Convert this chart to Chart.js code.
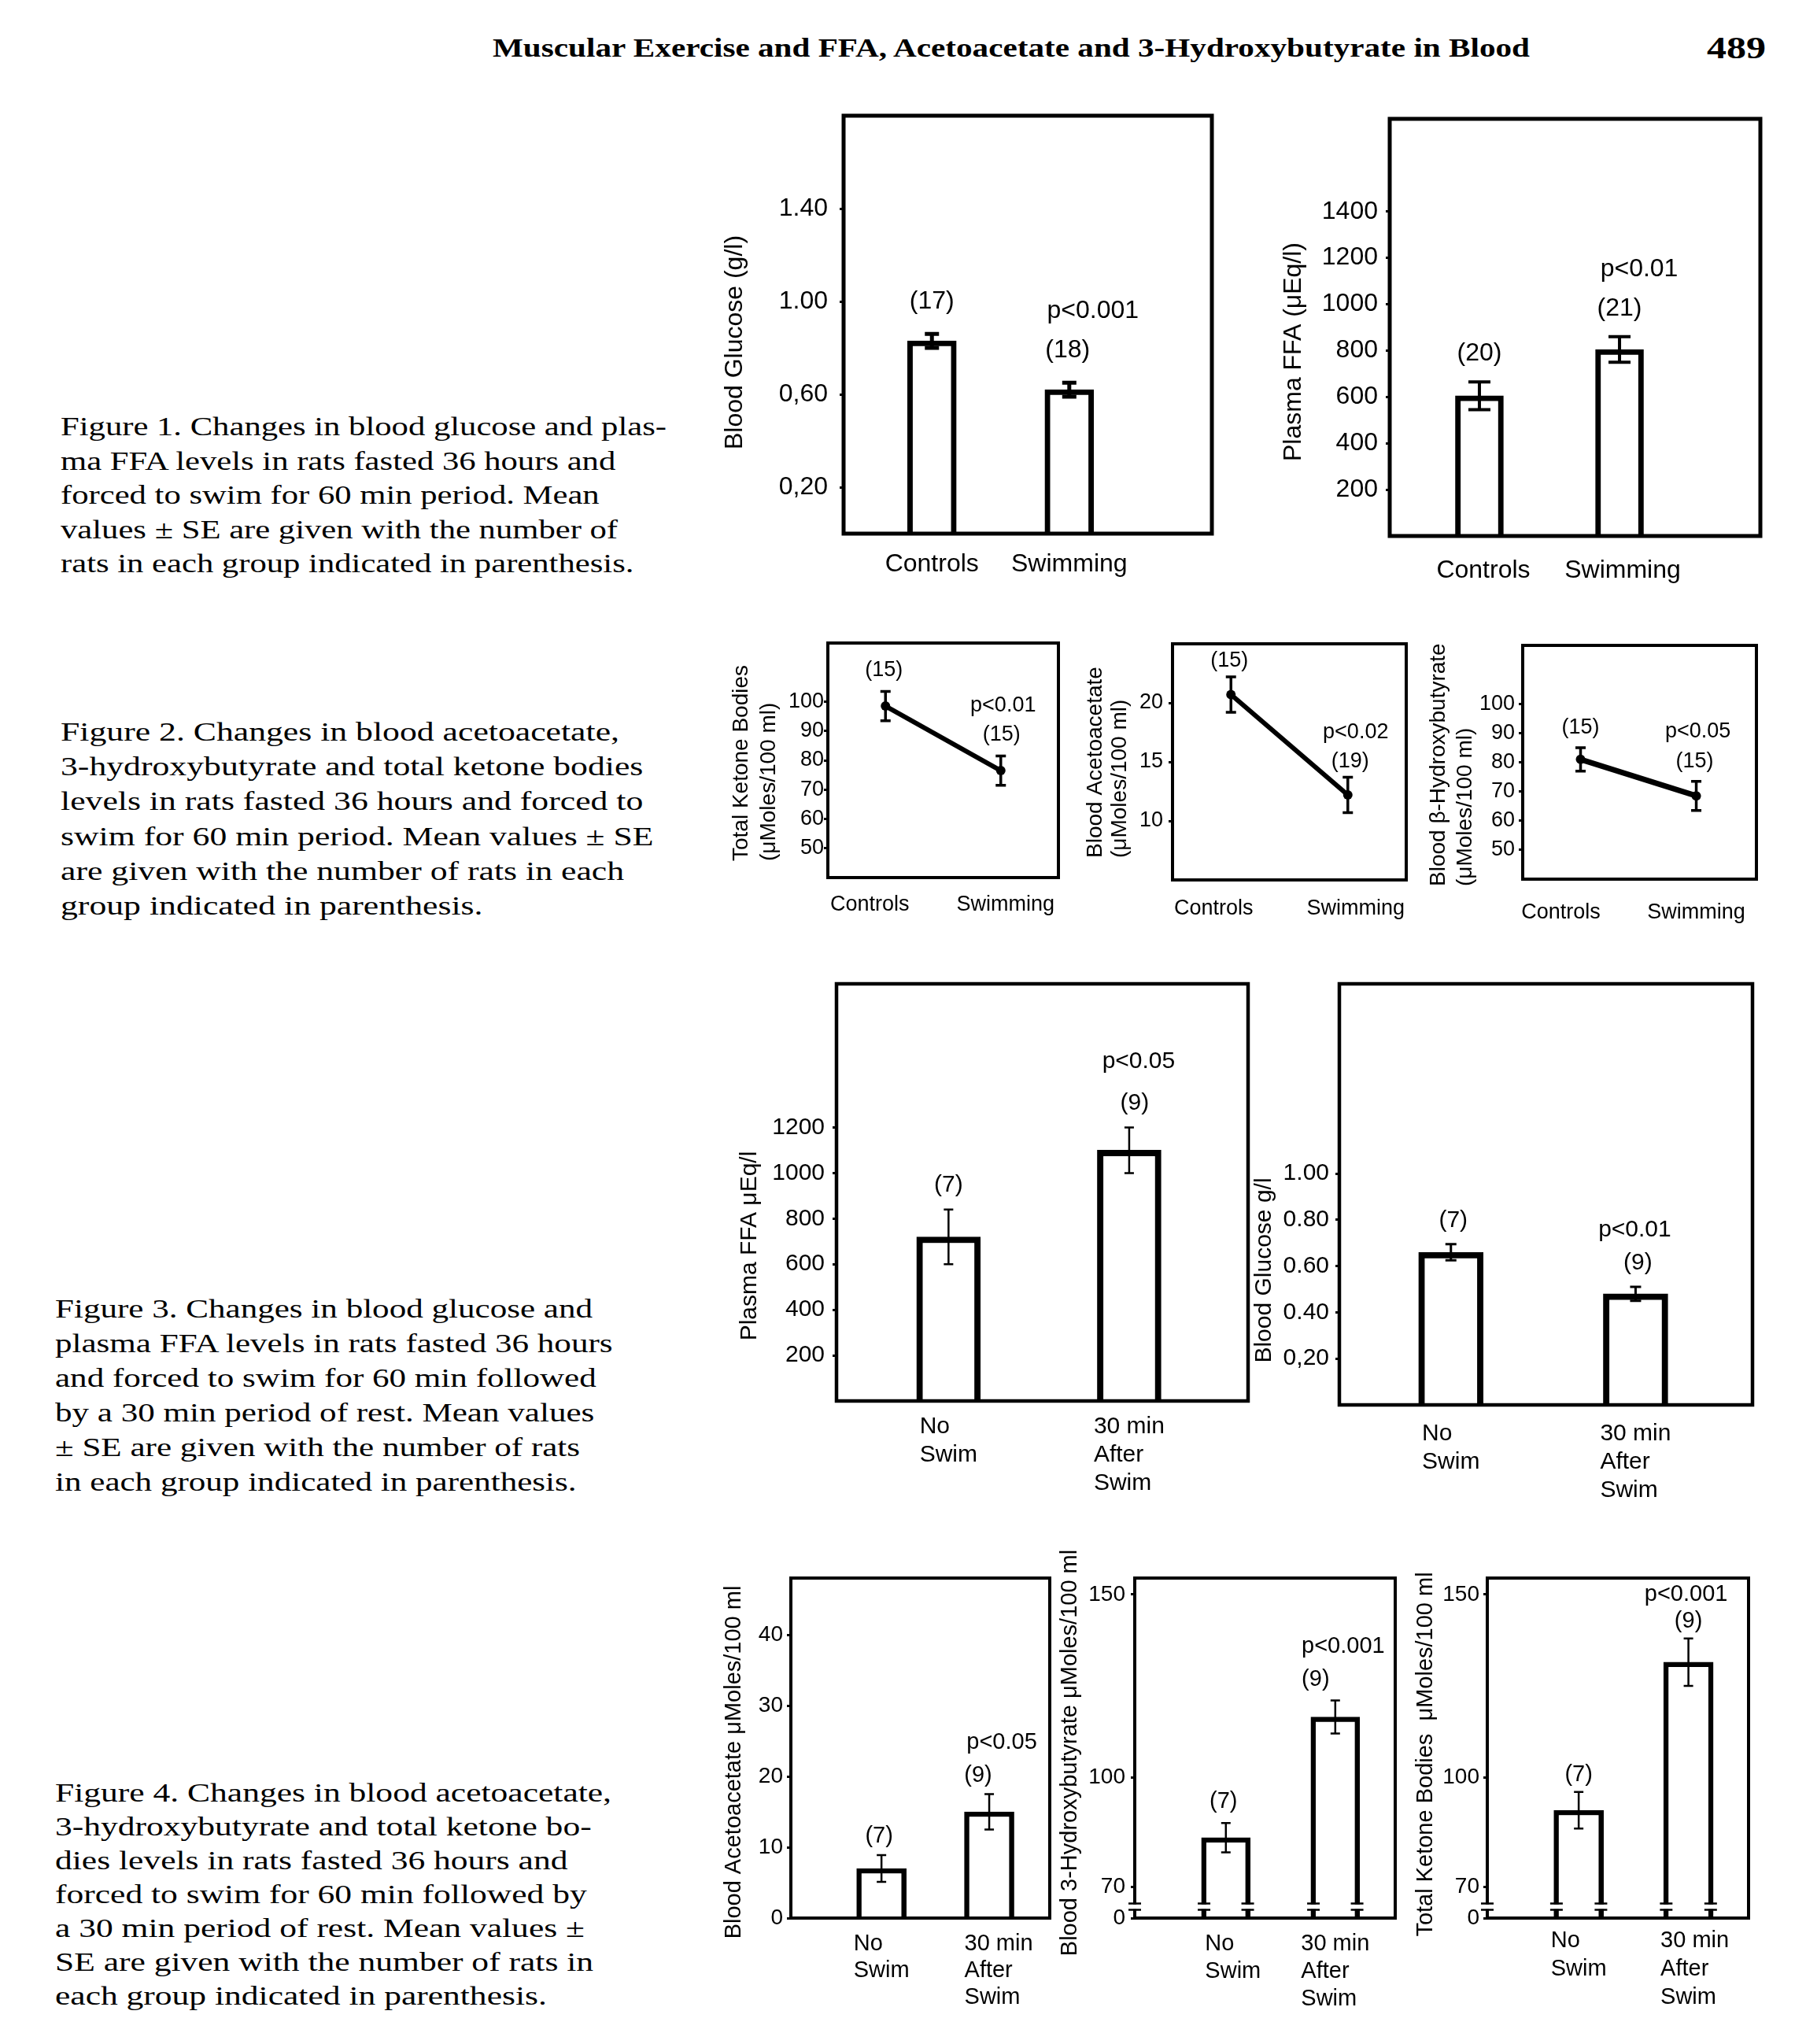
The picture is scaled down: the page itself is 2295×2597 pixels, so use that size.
<!DOCTYPE html>
<html>
<head>
<meta charset="utf-8">
<script src="https://cdn.jsdelivr.net/npm/chart.js@4.4.1/dist/chart.umd.min.js"></script>
<style>
  html, body { margin: 0; padding: 0; background: #fff; }
  body { width: 2295px; height: 2597px; position: relative; overflow: hidden; }
  canvas { position: absolute; }
  .txt { position: absolute; font-family: "Liberation Serif", "Times New Roman", serif; color: #000;
         white-space: nowrap; transform-origin: 0 0; }
</style>
</head>
<body>
<script>
// ---------- data ----------

// Figure 1
const fig1Groups = [['Controls'], ['Swimming']];
const f1GlucoseMean = [0.83, 0.62];
const f1GlucoseSE = [0.03, 0.03];
const f1GlucoseN = ['(17)', '(18)'];
const f1GlucoseP = ['', 'p<0.001'];
const f1GlucoseTicks = [0.2, 0.6, 1.0, 1.4];
const f1GlucoseTickLabels = ['0,20', '0,60', '1.00', '1.40'];

const f1FfaMean = [605, 805];
const f1FfaSE = [60, 55];
const f1FfaN = ['(20)', '(21)'];
const f1FfaP = ['', 'p<0.01'];
const f1FfaTicks = [200, 400, 600, 800, 1000, 1200, 1400];

// Figure 2
const fig2Groups = [['Controls'], ['Swimming']];
const f2KetoneMean = [98.5, 76.5];
const f2KetoneSE = [5, 5];
const f2KetoneN = ['(15)', '(15)'];
const f2KetoneP = ['', 'p<0.01'];
const f2KetoneTicks = [50, 60, 70, 80, 90, 100];

const f2AcetoMean = [20.7, 12.2];
const f2AcetoSE = [1.5, 1.5];
const f2AcetoN = ['(15)', '(19)'];
const f2AcetoP = ['', 'p<0.02'];
const f2AcetoTicks = [10, 15, 20];

const f2HydroxyMean = [81, 68.5];
const f2HydroxySE = [4, 5];
const f2HydroxyN = ['(15)', '(15)'];
const f2HydroxyP = ['', 'p<0.05'];
const f2HydroxyTicks = [50, 60, 70, 80, 90, 100];

// Figure 3
const fig3Groups = [['No', 'Swim'], ['30 min', 'After', 'Swim']];
const f3FfaMean = [720, 1100];
const f3FfaSE = [120, 100];
const f3FfaN = ['(7)', '(9)'];
const f3FfaP = ['', 'p<0.05'];
const f3FfaTicks = [200, 400, 600, 800, 1000, 1200];

const f3GlucoseMean = [0.66, 0.48];
const f3GlucoseSE = [0.035, 0.03];
const f3GlucoseN = ['(7)', '(9)'];
const f3GlucoseP = ['', 'p<0.01'];
const f3GlucoseTicks = [0.2, 0.4, 0.6, 0.8, 1.0];
const f3GlucoseTickLabels = ['0,20', '0.40', '0.60', '0.80', '1.00'];

// Figure 4
const fig4Groups = [['No', 'Swim'], ['30 min', 'After', 'Swim']];
const f4AcetoMean = [7, 15];
const f4AcetoSE = [1.9, 2.5];
const f4AcetoN = ['(7)', '(9)'];
const f4AcetoP = ['', 'p<0.05'];
const f4AcetoTicks = [0, 10, 20, 30, 40];

// broken axes: the lowest tick sits at the break and is labelled 0
const f4HydroxyMean = [83.5, 116.5];
const f4HydroxySE = [4, 4.5];
const f4HydroxyN = ['(7)', '(9)'];
const f4HydroxyP = ['', 'p<0.001'];
const f4HydroxyTicks = [61.5, 70, 100, 150];
const f4HydroxyTickLabels = ['0', '70', '100', '150'];

const f4KetoneMean = [91, 131.5];
const f4KetoneSE = [5, 6.5];
const f4KetoneN = ['(7)', '(9)'];
const f4KetoneP = ['', 'p<0.001'];
const f4KetoneTicks = [61.5, 70, 100, 150];
const f4KetoneTickLabels = ['0', '70', '100', '150'];

// page text
const headerText = 'Muscular Exercise and FFA, Acetoacetate and 3-Hydroxybutyrate in Blood';
const pageNumber = '489';
const caption1 = [
  'Figure 1. Changes in blood glucose and plas-',
  'ma FFA levels in rats fasted 36 hours and',
  'forced to swim for 60 min period. Mean',
  'values \u00B1 SE are given with the number of',
  'rats in each group indicated in parenthesis.'
];
const caption2 = [
  'Figure 2. Changes in blood acetoacetate,',
  '3-hydroxybutyrate and total ketone bodies',
  'levels in rats fasted 36 hours and forced to',
  'swim for 60 min period. Mean values \u00B1 SE',
  'are given with the number of rats in each',
  'group indicated in parenthesis.'
];
const caption3 = [
  'Figure 3. Changes in blood glucose and',
  'plasma FFA levels in rats fasted 36 hours',
  'and forced to swim for 60 min followed',
  'by a 30 min period of rest. Mean values',
  '\u00B1 SE are given with the number of rats',
  'in each group indicated in parenthesis.'
];
const caption4 = [
  'Figure 4. Changes in blood acetoacetate,',
  '3-hydroxybutyrate and total ketone bo-',
  'dies levels in rats fasted 36 hours and',
  'forced to swim for 60 min followed by',
  'a 30 min period of rest. Mean values \u00B1',
  'SE are given with the number of rats in',
  'each group indicated in parenthesis.'
];

// ---------- drawing ----------
const SANS = '"Liberation Sans", Arial, sans-serif';
const MARGIN = { l: 175, t: 60, r: 40, b: 150 };

function textBlock(lines, left, centerY, lh, size, firstWidth, weight) {
  const box = document.createElement('div');
  box.className = 'txt';
  box.style.left = left + 'px';
  box.style.top = (centerY - lh / 2) + 'px';
  box.style.fontSize = size + 'px';
  box.style.lineHeight = lh + 'px';
  box.style.fontWeight = weight || 'normal';
  lines.forEach(t => {
    const d = document.createElement('div');
    const s = document.createElement('span');
    s.textContent = t;
    d.appendChild(s);
    box.appendChild(d);
  });
  document.body.appendChild(box);
  const w = box.querySelector('span').getBoundingClientRect().width;
  box.style.transform = 'scaleX(' + (firstWidth / w) + ')';
}

function decor(o, ox, oy) {
  return {
    id: 'decor',
    afterDatasetsDraw(chart) {
      const ctx = chart.ctx, a = chart.chartArea;
      const xs = chart.scales.x, ys = chart.scales.y;
      const meta = chart.getDatasetMeta(0);
      ctx.save();
      ctx.strokeStyle = '#000';
      ctx.fillStyle = '#000';

      // frame
      ctx.lineWidth = o.frameW;
      ctx.strokeRect(a.left, a.top, a.right - a.left, a.bottom - a.top);

      // error bars (mean +/- SE)
      ctx.lineWidth = o.errW;
      o.mean.forEach((m, i) => {
        const x = xs.getPixelForValue(i);
        const hi = ys.getPixelForValue(m + o.se[i]);
        const lo = ys.getPixelForValue(m - o.se[i]);
        ctx.beginPath();
        ctx.moveTo(x, hi); ctx.lineTo(x, lo);
        ctx.moveTo(x - o.cap / 2, hi); ctx.lineTo(x + o.cap / 2, hi);
        ctx.moveTo(x - o.cap / 2, lo); ctx.lineTo(x + o.cap / 2, lo);
        ctx.stroke();
      });

      // axis break marks
      if (o.breakAt !== undefined) {
        const yb = ys.getPixelForValue(o.breakAt);
        const pos = [a.left];
        meta.data.forEach(el => {
          const half = el.width / 2 - o.barBorder / 2;
          pos.push(el.x - half, el.x + half);
        });
        pos.forEach(x => {
          ctx.fillStyle = '#fff';
          ctx.fillRect(x - 9, yb - 3, 18, 6);
          ctx.lineWidth = 2.5;
          ctx.beginPath();
          ctx.moveTo(x - 8, yb - 4); ctx.lineTo(x + 8, yb - 4);
          ctx.moveTo(x - 8, yb + 4); ctx.lineTo(x + 8, yb + 4);
          ctx.stroke();
        });
        ctx.fillStyle = '#000';
      }

      // group sizes and p values over the error bars
      ctx.font = o.font + 'px ' + SANS;
      ctx.textAlign = 'center';
      ctx.textBaseline = 'middle';
      o.mean.forEach((m, i) => {
        const x = xs.getPixelForValue(i);
        const yN = ys.getPixelForValue(m + o.se[i]) - o.nGap;
        ctx.fillText(o.n[i], x + o.nDx[i], yN);
        if (o.p[i]) ctx.fillText(o.p[i], x + o.pDx, yN - o.pGap);
      });

      // category labels: left aligned lines, block centred on the mark
      ctx.textAlign = 'left';
      o.groups.forEach((lines, i) => {
        const w = Math.max(...lines.map(t => ctx.measureText(t).width));
        const x0 = xs.getPixelForValue(i) + o.labDx[i] - w / 2;
        lines.forEach((t, j) => ctx.fillText(t, x0, a.bottom + o.labGap + j * o.labLH));
      });

      // rotated y title
      ctx.font = o.titleSize + 'px ' + SANS;
      ctx.textAlign = o.titleAlign;
      o.title.forEach((t, j) => {
        ctx.save();
        ctx.translate(o.titleX[j] - ox, o.titleY - oy);
        ctx.rotate(-Math.PI / 2);
        ctx.fillText(t, 0, 0);
        ctx.restore();
      });
      ctx.restore();
    }
  };
}

function panel(o) {
  const [bl, bt, br, bb] = o.box;
  const W = br - bl + MARGIN.l + MARGIN.r;
  const H = bb - bt + MARGIN.t + MARGIN.b;
  const ox = bl - MARGIN.l, oy = bt - MARGIN.t;
  const cv = document.createElement('canvas');
  cv.width = W; cv.height = H;
  cv.style.left = ox + 'px'; cv.style.top = oy + 'px';
  cv.style.width = W + 'px'; cv.style.height = H + 'px';
  document.body.appendChild(cv);

  const points = o.mean.map((v, i) => ({ x: i, y: v }));
  const ds = o.type === 'bar'
    ? { data: points, backgroundColor: '#fff', borderColor: '#000', borderWidth: o.barBorder,
        borderSkipped: 'start', barThickness: o.barW, base: o.yMin }
    : { data: points, borderColor: '#000', borderWidth: o.lineW, pointRadius: o.pointR,
        pointBackgroundColor: '#000', pointBorderWidth: 0, tension: 0, fill: false };

  new Chart(cv, {
    type: o.type,
    data: { datasets: [ds] },
    options: {
      responsive: false,
      animation: false,
      devicePixelRatio: 1,
      layout: { padding: { left: 0, top: MARGIN.t, right: MARGIN.r, bottom: MARGIN.b } },
      plugins: { legend: { display: false }, tooltip: { enabled: false } },
      scales: {
        x: { type: 'linear', display: false, min: o.xMin, max: o.xMax, offset: false },
        y: {
          type: 'linear', min: o.yMin, max: o.yMax,
          afterFit: s => { s.width = MARGIN.l; },
          afterBuildTicks: s => { s.ticks = o.ticks.map(v => ({ value: v })); },
          border: { display: false },
          grid: { drawOnChartArea: false, drawTicks: true, tickLength: 5, tickWidth: 3, tickColor: '#000' },
          ticks: {
            autoSkip: false, color: '#000', padding: o.tickPad,
            font: { family: SANS, size: o.tickSize || o.font },
            callback: v => o.tickLabels ? o.tickLabels[o.ticks.indexOf(v)] : String(v)
          }
        }
      }
    },
    plugins: [decor(o, ox, oy)]
  });
}

// Figure 1
panel({ type: 'bar', mean: f1GlucoseMean, se: f1GlucoseSE, n: f1GlucoseN, p: f1GlucoseP, groups: fig1Groups,
  ticks: f1GlucoseTicks, tickLabels: f1GlucoseTickLabels,
  box: [1072, 147, 1540, 678], yMin: 0, yMax: 1.8, xMin: -0.643, xMax: 2.038,
  font: 32, tickPad: 15, frameW: 5, barW: 62, barBorder: 7, errW: 5, cap: 18,
  nGap: 41, nDx: [0, -2], pGap: 50, pDx: 30, labGap: 39, labLH: 34, labDx: [0, 0],
  title: ['Blood Glucose (g/l)'], titleSize: 32, titleX: [934], titleY: 435, titleAlign: 'center' });

panel({ type: 'bar', mean: f1FfaMean, se: f1FfaSE, n: f1FfaN, p: f1FfaP, groups: fig1Groups,
  ticks: f1FfaTicks,
  box: [1766, 151, 2237, 681], yMin: 0, yMax: 1800, xMin: -0.64, xMax: 2.005,
  font: 32, tickPad: 10, frameW: 5, barW: 61, barBorder: 7, errW: 4, cap: 28,
  nGap: 36, nDx: [0, 0], pGap: 50, pDx: 25, labGap: 44, labLH: 34, labDx: [5, 4],
  title: ['Plasma FFA (\u03BCEq/l)'], titleSize: 32, titleX: [1644], titleY: 447, titleAlign: 'center' });

// Figure 2
panel({ type: 'line', mean: f2KetoneMean, se: f2KetoneSE, n: f2KetoneN, p: f2KetoneP, groups: fig2Groups,
  ticks: f2KetoneTicks,
  box: [1052, 817, 1345, 1115], yMin: 40, yMax: 120, xMin: -0.5, xMax: 1.5,
  font: 27, tickPad: 0, frameW: 4, lineW: 6, pointR: 6, errW: 3.5, cap: 13,
  nGap: 27, nDx: [-2, 1], pGap: 37, pDx: 3, labGap: 35, labLH: 30, labDx: [-20, 6],
  title: ['Total Ketone Bodies', '(\u03BCMoles/100 ml)'], titleSize: 28, titleX: [942, 977], titleY: 1094, titleAlign: 'left' });

panel({ type: 'line', mean: f2AcetoMean, se: f2AcetoSE, n: f2AcetoN, p: f2AcetoP, groups: fig2Groups,
  ticks: f2AcetoTicks,
  box: [1490, 818, 1787, 1118], yMin: 5, yMax: 25, xMin: -0.5, xMax: 1.5,
  font: 27, tickPad: 7, frameW: 4, lineW: 6, pointR: 6, errW: 3.5, cap: 13,
  nGap: 20, nDx: [-2, 3], pGap: 37, pDx: 10, labGap: 37, labLH: 30, labDx: [-22, 10],
  title: ['Blood Acetoacetate', '(\u03BCMoles/100 ml)'], titleSize: 28, titleX: [1392, 1423], titleY: 1090, titleAlign: 'left' });

panel({ type: 'line', mean: f2HydroxyMean, se: f2HydroxySE, n: f2HydroxyN, p: f2HydroxyP, groups: fig2Groups,
  ticks: f2HydroxyTicks,
  box: [1935, 820, 2232, 1117], yMin: 40, yMax: 120, xMin: -0.5, xMax: 1.52,
  font: 27, tickPad: 5, frameW: 4, lineW: 7, pointR: 6, errW: 3.5, cap: 13,
  nGap: 25, nDx: [0, -2], pGap: 38, pDx: 2, labGap: 43, labLH: 30, labDx: [-25, 0],
  title: ['Blood \u03B2-Hydroxybutyrate', '(\u03BCMoles/100 ml)'], titleSize: 28, titleX: [1828, 1862], titleY: 1126, titleAlign: 'left' });

// Figure 3
panel({ type: 'bar', mean: f3FfaMean, se: f3FfaSE, n: f3FfaN, p: f3FfaP, groups: fig3Groups,
  ticks: f3FfaTicks,
  box: [1063, 1250, 1586, 1780], yMin: 0, yMax: 1830, xMin: -0.62, xMax: 1.658,
  font: 30, tickPad: 10, frameW: 4.5, barW: 81, barBorder: 8, errW: 2.5, cap: 12,
  nGap: 31, nDx: [0, 7], pGap: 53, pDx: 12, labGap: 33, labLH: 36, labDx: [0, 0],
  title: ['Plasma FFA \u03BCEq/l'], titleSize: 30, titleX: [953], titleY: 1583, titleAlign: 'center' });

panel({ type: 'bar', mean: f3GlucoseMean, se: f3GlucoseSE, n: f3GlucoseN, p: f3GlucoseP, groups: fig3Groups,
  ticks: f3GlucoseTicks, tickLabels: f3GlucoseTickLabels,
  box: [1702, 1250, 2227, 1785], yMin: 0, yMax: 1.82, xMin: -0.604, xMax: 1.633,
  font: 30, tickPad: 8, frameW: 4.5, barW: 82, barBorder: 8, errW: 3, cap: 14,
  nGap: 30, nDx: [3, 3], pGap: 42, pDx: -1, labGap: 37, labLH: 36, labDx: [0, 0],
  title: ['Blood Glucose g/l'], titleSize: 30, titleX: [1607], titleY: 1614, titleAlign: 'center' });

// Figure 4
panel({ type: 'bar', mean: f4AcetoMean, se: f4AcetoSE, n: f4AcetoN, p: f4AcetoP, groups: fig4Groups,
  ticks: f4AcetoTicks,
  box: [1005, 2005, 1334, 2437], yMin: 0, yMax: 48, xMin: -0.841, xMax: 1.562,
  font: 29, tickSize: 28, tickPad: 5, frameW: 4, barW: 63, barBorder: 6.5, errW: 2.5, cap: 12,
  nGap: 24, nDx: [-3, -14], pGap: 41.5, pDx: 16, labGap: 33, labLH: 34, labDx: [0, 12],
  title: ['Blood Acetoacetate \u03BCMoles/100 ml'], titleSize: 29, titleX: [933], titleY: 2239, titleAlign: 'center' });

panel({ type: 'bar', mean: f4HydroxyMean, se: f4HydroxySE, n: f4HydroxyN, p: f4HydroxyP, groups: fig4Groups,
  ticks: f4HydroxyTicks, tickLabels: f4HydroxyTickLabels,
  box: [1442, 2005, 1773, 2437], yMin: 61.5, yMax: 154.5, xMin: -0.833, xMax: 1.548, breakAt: 64.6,
  font: 29, tickSize: 28, tickPad: 7, frameW: 4, barW: 62, barBorder: 6.5, errW: 2.5, cap: 12,
  nGap: 27, nDx: [-3, -25], pGap: 42, pDx: 10, labGap: 33, labLH: 35, labDx: [9, 0],
  title: ['Blood 3-Hydroxybutyrate \u03BCMoles/100 ml'], titleSize: 29, titleX: [1360], titleY: 2227, titleAlign: 'center' });

panel({ type: 'bar', mean: f4KetoneMean, se: f4KetoneSE, n: f4KetoneN, p: f4KetoneP, groups: fig4Groups,
  ticks: f4KetoneTicks, tickLabels: f4KetoneTickLabels,
  box: [1890, 2005, 2222, 2437], yMin: 61.5, yMax: 154.5, xMin: -0.833, xMax: 1.548, breakAt: 64.6,
  font: 29, tickSize: 28, tickPad: 5, frameW: 4, barW: 63, barBorder: 6.5, errW: 2.5, cap: 12,
  nGap: 22, nDx: [0, 0], pGap: 34, pDx: -3, labGap: 29, labLH: 36, labDx: [0, 8],
  title: ['Total Ketone Bodies  \u03BCMoles/100 ml'], titleSize: 29, titleX: [1812], titleY: 2229, titleAlign: 'center' });

// page header and captions
textBlock([headerText], 626, 61, 50, 34, 1318, 'bold');
textBlock([pageNumber], 2169, 61, 50, 40, 75, 'bold');
textBlock(caption1, 77, 542, 43.5, 34, 770);
textBlock(caption2, 77, 930, 44.3, 34, 710);
textBlock(caption3, 70, 1663, 44, 34, 683);
textBlock(caption4, 70, 2277, 43, 34, 707);
</script>
</body>
</html>
